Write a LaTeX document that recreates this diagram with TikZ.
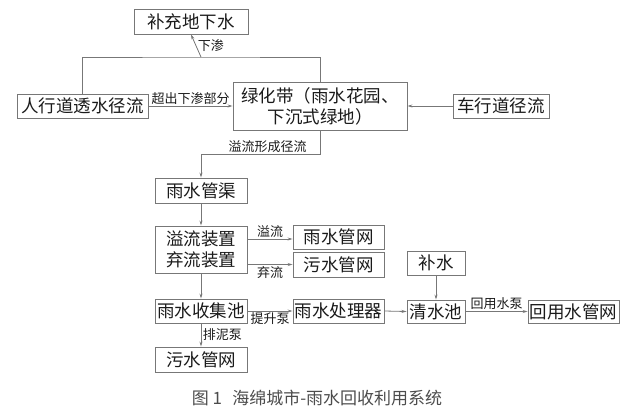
\documentclass[tikz,border=0pt]{standalone}
\usepackage{fontspec}
\usepackage{tikz}
\usetikzlibrary{arrows.meta}
\newfontfamily\cjk{Noto Sans CJK SC}
\definecolor{linegray}{HTML}{777777}
\definecolor{textgray}{HTML}{1A1A1A}
\tikzset{
  font={\cjk\fontsize{17.5pt}{21pt}\selectfont},
  box/.style={draw=linegray, line width=0.9pt, text=textgray, inner sep=0pt, align=center},
  lab/.style={text=textgray, inner sep=1.5pt, font={\cjk\fontsize{13pt}{14pt}\selectfont}},
  flow/.style={draw=linegray, line width=0.8pt, -{Stealth[length=5pt,width=3pt]}}}

\begin{document}
\begin{tikzpicture}[x=1pt,y=-1pt]
\useasboundingbox (0,0) rectangle (635,418);
\node [box, minimum width=114, minimum height=25] (bcdxs) at (191,21.5) {补充地下水};
\node [box, minimum width=131, minimum height=24] (rxd) at (82.5,106) {人行道透水径流};
\node [box, minimum width=174, minimum height=48] (lhd) at (320,106) {绿化带（雨水花园、\\下沉式绿地）};
\node [box, minimum width=96, minimum height=24] (cxd) at (501,106) {车行道径流};
\node [box, minimum width=92, minimum height=25] (ysgq) at (201,190.5) {雨水管渠};
\node [box, minimum width=92, minimum height=47] (qlzz) at (201,249.5) {溢流装置\\弃流装置};
\node [box, minimum width=91, minimum height=24] (ysgw) at (338.5,237) {雨水管网};
\node [box, minimum width=91, minimum height=25] (wsgw) at (338.5,264.5) {污水管网};
\node [box, minimum width=92, minimum height=24] (sjc) at (201,311) {雨水收集池};
\node [box, minimum width=91, minimum height=24] (clq) at (338.5,311) {雨水处理器};
\node [box, minimum width=92, minimum height=25] (wsgwb) at (201,359.5) {污水管网};
\node [box, minimum width=58, minimum height=24] (bs) at (436,263) {补水};
\node [box, minimum width=58, minimum height=23] (qsc) at (436,311.5) {清水池};
\node [box, minimum width=91, minimum height=23] (hygw) at (573.5,311.5) {回用水管网};
\coordinate (xs) at (201,57);
\draw [draw=linegray, line width=0.8pt] (rxd.north) |- (xs) -| (lhd.north);
\draw [flow] (xs) -- node [lab, right] {下渗} (bcdxs.south);
\draw [flow] (rxd.east) -- node [lab, above] {超出下渗部分} (lhd.west);
\draw [flow] (cxd.west) -- (lhd.east);
\draw [flow] (lhd.south) -- ++(0,24) -| node [lab, pos=0.22, above] {溢流形成径流} (ysgq.north);
\draw [flow] (ysgq.south) -- (qlzz.north);
\draw [flow] (ysgw.west -| qlzz.east) ++(0,2) -- node [lab, above] {溢流} ([yshift=-2pt]ysgw.west);
\draw [flow] (wsgw.west -| qlzz.east) -- node [lab, below] {弃流} (wsgw.west);
\draw [flow] (qlzz.south) -- (sjc.north);
\draw [flow] (sjc.east) -- node [lab, below] {提升泵} (clq.west);
\draw [flow] (sjc.south) -- node [lab, right] {排泥泵} (wsgwb.north);
\draw [flow] (clq.east) -- (qsc.west);
\draw [flow] (bs.south) -- (qsc.north);
\draw [flow] (qsc.east) -- node [lab, above] {回用水泵} (hygw.west);
\node [text=black!70, font={\cjk\fontsize{17pt}{19pt}\selectfont}] (cap) at (317,398) {图~1\hspace{0.6em}海绵城市-雨水回收利用系统};
\end{tikzpicture}
\end{document}
